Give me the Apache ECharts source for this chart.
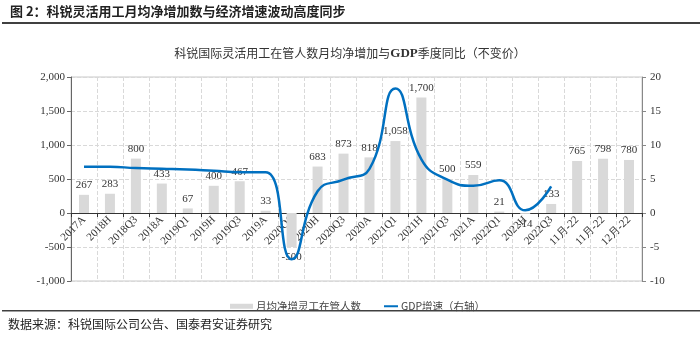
<!DOCTYPE html>
<html><head><meta charset="utf-8">
<script src="https://cdn.jsdelivr.net/npm/echarts@6/dist/echarts.min.js"></script>
<style>html,body{margin:0;padding:0;background:#fff}#c{width:700px;height:353px}</style>
</head><body><div id="c"></div>
<script>
var categories = ['2017A','2018H','2018Q3','2018A','2019Q1','2019H','2019Q3','2019A','2020Q1','2020H','2020Q3','2020A','2021Q1','2021H','2021Q3','2021A','2022Q1','2022H','2022Q3','11月-22','11月-22','12月-22'];
var netAdds = [267,283,800,433,67,400,467,33,-500,683,873,818,1058,1700,500,559,21,-14,133,765,798,780];
var gdp = [6.8,6.8,6.6,6.5,6.4,6.2,6.0,6.0,-6.8,3.2,4.9,6.5,18.3,7.9,4.9,4.0,4.8,0.4,3.9,null,null,null];
var leftTicks = {min:-1000, max:2000, interval:500};
var rightTicks = {min:-10, max:20, interval:5};

function fmt(v){ var s = Math.abs(v).toString().replace(/\B(?=(\d{3})+(?!\d))/g, ','); return (v<0?'-':'')+s; }

var serif = '"Liberation Serif","Times New Roman",serif';
var cjk = '"Noto Sans CJK SC","Noto Sans",sans-serif';
var gridTop = 77, gridBottom = 72, H = 353;
var plotH = H - gridTop - gridBottom;
var zeroOffset = -plotH * (0 - leftTicks.min) / (leftTicks.max - leftTicks.min);

var barData = netAdds.map(function(v){
  return v < 0 ? {value:v, label:{position:'bottom', distance:5}} : v;
});

var chart = echarts.init(document.getElementById('c'));
chart.setOption({
  animation:false,
  backgroundColor:'#fff',
  title:{text:'{a|科锐国际灵活用工在管人数月均净增加与}{b|GDP}{a|季度同比（不变价）}', left:'center', top:42,
    textStyle:{fontWeight:'normal', rich:{
      a:{fontFamily:cjk, fontSize:12, fontWeight:'normal', color:'#333'},
      b:{fontFamily:serif, fontSize:13, fontWeight:'bold', color:'#333'}}}},
  graphic:[
    {type:'text', left:10, top:5, style:{text:'图 2：科锐灵活用工月均净增加数与经济增速波动高度同步', font:'bold 13px "Noto Sans CJK SC"', fill:'#222'}},
    {type:'rect', shape:{x:2, y:22, width:698, height:2}, style:{fill:'#404040'}},
    {type:'rect', shape:{x:2, y:310, width:698, height:1.5}, style:{fill:'#404040'}},
    {type:'text', left:8, top:318, style:{text:'数据来源：科锐国际公司公告、国泰君安证券研究', font:'12px "Noto Sans CJK SC"', fill:'#222'}}
  ],
  legend:{left:225, top:296, itemGap:14, itemWidth:23, itemHeight:7, symbolKeepAspect:true,
    textStyle:{fontFamily:cjk, fontSize:10.5, color:'#444', padding:[0,0,0,-2]},
    data:[
      {name:'月均净增灵工在管人数', icon:'path://M0,0 M23,7 M0,1 L23,1 L23,6 L0,6 Z'},
      {name:'GDP增速（右轴）', icon:'path://M0,0 M23,7 M9,2.5 L23,2.5 L23,4.5 L9,4.5 Z'}
    ]},
  grid:{left:71, right:58, top:gridTop, bottom:gridBottom, show:true, borderColor:'#c8c8c8', borderWidth:1},
  xAxis:{type:'category', data:categories, offset:zeroOffset,
    axisLine:{onZero:false, lineStyle:{color:'#333', width:1.2}},
    axisTick:{show:true, alignWithLabel:false, length:4, lineStyle:{color:'#333'}},
    axisLabel:{interval:0, rotate:45, fontFamily:serif, fontSize:11, color:'#333', margin:5},
    splitLine:{show:true, lineStyle:{color:'#d9d9d9', type:'dashed'}}
  },
  yAxis:[
    {type:'value', min:leftTicks.min, max:leftTicks.max, interval:leftTicks.interval,
      axisLine:{show:true, lineStyle:{color:'#666'}}, axisTick:{show:true, length:4, lineStyle:{color:'#666'}},
      axisLabel:{formatter:fmt, fontFamily:serif, fontSize:11, color:'#333', margin:6},
      splitLine:{lineStyle:{color:'#d9d9d9', type:'dashed'}}},
    {type:'value', min:rightTicks.min, max:rightTicks.max, interval:rightTicks.interval, position:'right',
      axisLine:{show:true, lineStyle:{color:'#888'}}, axisTick:{show:true, length:4, lineStyle:{color:'#888'}},
      axisLabel:{fontFamily:serif, fontSize:11, color:'#333', margin:8},
      splitLine:{show:false}}
  ],
  series:[
    {name:'月均净增灵工在管人数', type:'bar', data:barData, barWidth:10, yAxisIndex:0,
      itemStyle:{color:'#d9d9d9'},
      label:{show:true, position:'top', distance:4, formatter:function(p){return fmt(p.value);},
        fontFamily:serif, fontSize:11, color:'#333'}},
    {name:'GDP增速（右轴）', type:'line', data:gdp, yAxisIndex:1, smooth:0.5, symbol:'none',
      connectNulls:false, lineStyle:{color:'#0070c0', width:2.5}, itemStyle:{color:'#0070c0'}, z:5}
  ]
});
</script></body></html>
